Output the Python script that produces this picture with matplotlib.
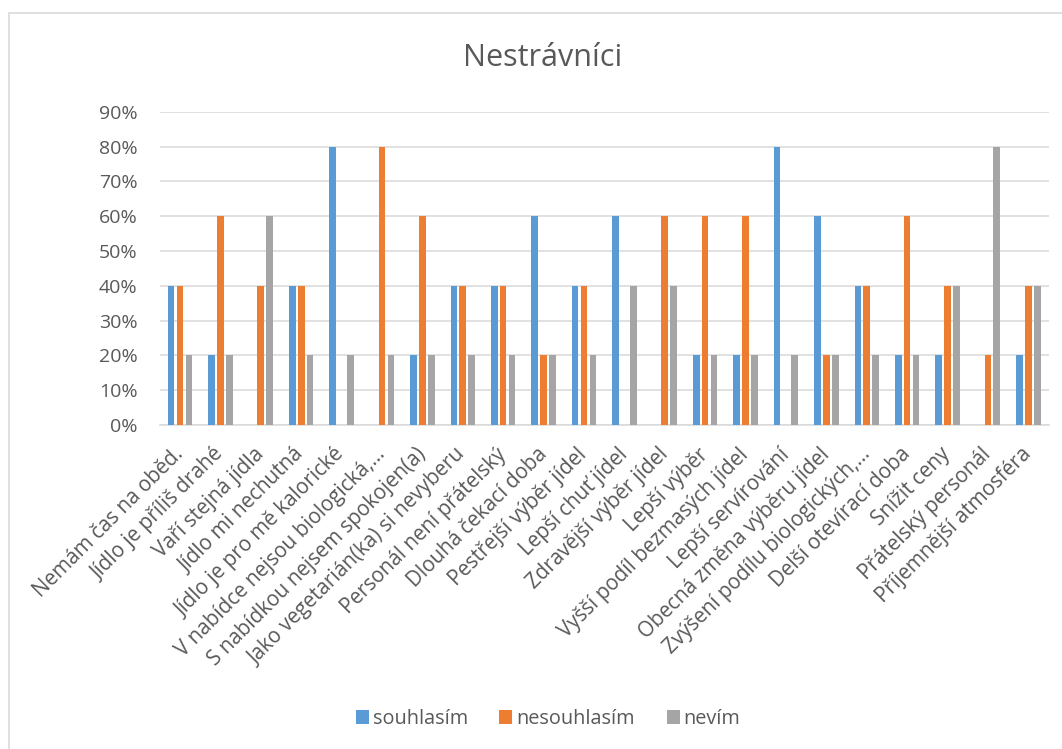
import matplotlib
matplotlib.use("Agg")
import matplotlib.pyplot as plt
import numpy as np
from matplotlib.patches import Rectangle

categories = [
    "Nemám čas na oběd.",
    "Jídlo je příliš drahé",
    "Vaří stejná jídla",
    "Jídlo mi nechutná",
    "Jídlo je pro mě kalorické",
    "V nabídce nejsou biologická,…",
    "S nabídkou nejsem spokojen(a)",
    "Jako vegetarián(ka) si nevyberu",
    "Personál není přátelský",
    "Dlouhá čekací doba",
    "Pestřejší výběr jídel",
    "Lepší chuť jídel",
    "Zdravější výběr jídel",
    "Lepší výběr",
    "Vyšší podíl bezmasých jídel",
    "Lepší servírování",
    "Obecná změna výběru jídel",
    "Zvýšení podílu biologických,…",
    "Delší otevírací doba",
    "Snížit ceny",
    "Přátelský personál",
    "Příjemnější atmosféra",
]

souhlasim = [40, 20, 0, 40, 80, 0, 20, 40, 40, 60, 40, 60, 0, 20, 20, 80, 60, 40, 20, 20, 0, 20]
nesouhlasim = [40, 60, 40, 40, 0, 80, 60, 40, 40, 20, 40, 0, 60, 60, 60, 0, 20, 40, 60, 40, 20, 40]
nevim = [20, 20, 60, 20, 20, 20, 20, 20, 20, 20, 20, 40, 40, 20, 20, 20, 20, 20, 20, 40, 80, 40]

series_names = ["souhlasím", "nesouhlasím", "nevím"]
series_colors = ["#5B9BD5", "#ED7D31", "#A5A5A5"]
y_ticks = list(range(0, 91, 10))

text_color = "#595959"
grid_color = "#D9D9D9"

plt.rcParams["font.family"] = ["Open Sans", "DejaVu Sans"]

W, H = 1062, 749
fig = plt.figure(figsize=(W / 100, H / 100), dpi=100)
fig.patch.set_facecolor("white")

# chart frame
fig.add_artist(Rectangle((9 / W, -0.1), 1.2, 1 - 13 / H + 0.1,
                         transform=fig.transFigure, fill=False,
                         edgecolor=grid_color, linewidth=1.2))

ax = fig.add_axes([159.8 / W, 324 / H, (1048.5 - 159.8) / W, (425 - 111.8) / H])

x = np.arange(len(categories))
width = 0.165
offsets = [-0.22, 0.0, 0.22]
for vals, off, col, name in zip([souhlasim, nesouhlasim, nevim], offsets, series_colors, series_names):
    ax.bar(x + off, vals, width=width, color=col, label=name, zorder=3)

ax.set_xlim(-0.5, len(categories) - 0.5)
ax.set_ylim(0, 90)
ax.set_yticks(y_ticks)
ax.set_yticklabels([f"{t}%" for t in y_ticks])
ax.yaxis.grid(True, color=grid_color, linewidth=1.1, zorder=0)
ax.set_axisbelow(True)
for s in ["top", "right", "left"]:
    ax.spines[s].set_visible(False)
ax.spines["bottom"].set_color(grid_color)
ax.spines["bottom"].set_linewidth(1.1)
ax.tick_params(axis="y", length=0, pad=16, labelsize=14, labelcolor=text_color)
ax.tick_params(axis="x", length=0, pad=19, labelsize=14.9, labelcolor=text_color)

ax.set_xticks(x)
ax.set_xticklabels(categories, rotation=45, ha="right", va="center", rotation_mode="anchor")

fig.text(543 / W, 1 - 58 / H, "Nestrávníci", ha="center", va="center",
         fontsize=22, color=text_color)

fig.legend(loc="center", bbox_to_anchor=(548 / W, 1 - 719 / H), ncol=3, frameon=False,
           handlelength=0.65, handleheight=0.65, handletextpad=0.2, columnspacing=1.6,
           fontsize=14.3, labelcolor=text_color)

fig.savefig("out.png", dpi=100, facecolor="white")
